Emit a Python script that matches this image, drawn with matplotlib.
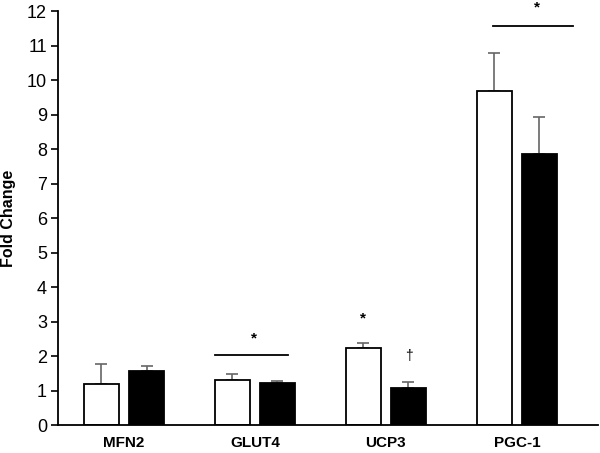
import matplotlib.pyplot as plt
import numpy as np

plt.rcParams['font.family'] = ['Liberation Sans', 'DejaVu Sans']

genes = ['MFN2', 'GLUT4', 'UCP3', 'PGC-1']
white_vals = [1.20, 1.30, 2.23, 9.69]
white_err = [0.56, 0.17, 0.16, 1.10]
black_vals = [1.57, 1.21, 1.08, 7.86]
black_err = [0.15, 0.07, 0.16, 1.06]

x = np.arange(len(genes))
w = 0.267
off = 0.172

fig = plt.figure(figsize=(6, 4.53), dpi=100)
ax = fig.add_axes([0.0967, 0.0618, 0.9, 0.9139])

ax.bar(x - off, white_vals, w, color='white', edgecolor='black', linewidth=1.3, zorder=2)
ax.bar(x + off, black_vals, w, color='black', edgecolor='black', linewidth=1.3, zorder=2)
ax.errorbar(x - off, white_vals, yerr=[np.zeros(4), white_err], fmt='none',
            ecolor='#666666', elinewidth=1.2, capsize=4, capthick=1.2, zorder=1)
ax.errorbar(x + off, black_vals, yerr=[np.zeros(4), black_err], fmt='none',
            ecolor='#666666', elinewidth=1.2, capsize=4, capthick=1.2, zorder=1)

# significance marks
ax.plot([1 - off - w / 2, 1 + off + w / 2 - 0.05], [2.02, 2.02], color='black', lw=1.3)
ax.text(0.99, 2.5, '*', ha='center', va='center', fontsize=11, fontweight='bold')
ax.text(2 - off, 3.08, '*', ha='center', va='center', fontsize=11, fontweight='bold')
ax.text(2 + off, 2.0, '\u2020', ha='center', va='center', fontsize=10)
ax.plot([3 - off - w / 2 + 0.12, 3 + off + w / 2 + 0.12], [11.57, 11.57], color='black', lw=1.3)
ax.text(3.15, 12.1, '*', ha='center', va='center', fontsize=11, fontweight='bold')

ax.set_xlim(-0.504, 3.62)
ax.set_ylim(0, 12)
ax.set_yticks(range(0, 13))
ax.tick_params(axis='y', direction='out', length=5, width=1.2, labelsize=13, pad=3)
ax.set_xticks(x)
ax.set_xticklabels(genes, fontweight='bold', fontsize=11)
ax.tick_params(axis='x', length=0, pad=8)
ax.set_ylabel('Fold Change', fontweight='bold', fontsize=11.5, labelpad=8)

ax.spines['right'].set_visible(False)
ax.spines['top'].set_visible(False)
ax.spines['left'].set_linewidth(1.3)
ax.spines['bottom'].set_linewidth(1.3)

plt.savefig('out.png', dpi=100)
